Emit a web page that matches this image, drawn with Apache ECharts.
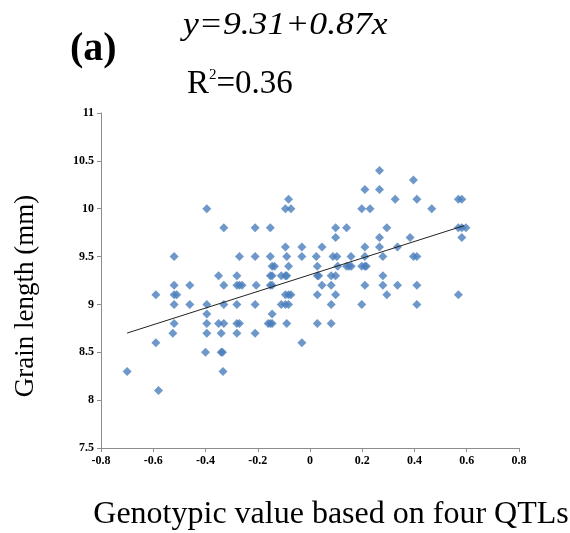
<!DOCTYPE html>
<html><head><meta charset="utf-8">
<script src="https://cdn.jsdelivr.net/npm/echarts@6/dist/echarts.min.js"></script>
<style>html,body{margin:0;padding:0;background:#fff}#c{width:570px;height:533px}</style>
</head><body><div id="c"></div>
<script>
const genotypicValue = [
 -0.70,-0.58,-0.59,-0.59,-0.52,-0.52,-0.52,-0.51,-0.52,-0.52,-0.525,
 -0.46,-0.46,-0.395,-0.395,-0.395,-0.395,-0.395,-0.40,
 -0.35,-0.35,-0.34,-0.34,-0.335,-0.333,-0.33,-0.33,-0.33,-0.33,
 -0.28,-0.28,-0.27,-0.26,-0.27,-0.28,-0.28,-0.27,-0.28,
 -0.21,-0.21,-0.206,-0.21,-0.21,
 -0.152,-0.152,-0.152,-0.145,-0.145,-0.136,-0.152,-0.145,-0.145,-0.16,-0.152,-0.145,
 -0.11,-0.11,-0.094,-0.073,-0.082,-0.094,-0.089,-0.094,-0.089,-0.082,-0.094,-0.082,-0.073,-0.094,-0.082,-0.089,
 -0.031,-0.031,-0.031,
 0.024,0.028,0.028,0.033,0.046,0.046,0.028,0.028,
 0.081,0.081,0.098,0.081,0.081,0.088,0.103,0.098,0.098,0.098,0.106,
 0.14,0.14,0.149,0.158,0.157,
 0.198,0.23,0.21,0.198,0.21,0.215,0.21,0.21,0.21,0.198,
 0.266,0.266,0.266,0.266,0.279,0.279,0.279,0.294,0.294,
 0.326,0.335,0.335,0.383,0.396,0.396,0.409,0.409,0.409,0.409,0.466,
 0.568,0.581,0.568,0.581,0.597,0.581,0.568
];
const grainLength = [
 8.3,8.1,8.6,9.1,9.5,9.2,9.1,9.1,9.0,8.8,8.7,
 9.2,9.0,10.0,9.0,8.9,8.8,8.7,8.5,
 9.3,8.8,8.7,8.5,8.5,8.3,9.8,9.2,9.0,8.8,
 9.3,9.2,9.2,9.2,9.5,9.0,8.8,8.8,8.7,
 9.8,9.5,9.2,9.0,8.7,
 9.8,9.5,9.3,9.3,9.4,9.4,9.2,9.2,8.9,8.8,8.8,8.8,
 9.3,9.0,10.0,10.0,10.1,9.6,9.5,9.3,9.3,9.4,9.1,9.1,9.1,9.0,9.0,8.8,
 9.6,9.5,8.6,
 9.5,9.4,9.3,9.3,9.2,9.6,9.1,8.8,
 9.2,9.3,9.3,9.0,8.8,9.5,9.5,9.8,9.7,9.1,9.4,
 9.8,9.4,9.4,9.4,9.5,
 10.0,10.0,10.2,9.4,9.4,9.4,9.6,9.5,9.2,9.0,
 10.4,10.2,9.7,9.6,9.5,9.3,9.2,9.8,9.1,
 10.1,9.6,9.2,9.7,10.3,9.5,9.5,10.1,9.2,9.0,10.0,
 10.1,10.1,9.8,9.8,9.8,9.7,9.1
];
const fitX = [-0.70, 0.59];
const intercept = 9.31, slope = 0.87;
const fitY = fitX.map(x => +(intercept + slope * x).toFixed(4));
const xTicks = [-0.8,-0.6,-0.4,-0.2,0,0.2,0.4,0.6,0.8];
const yTicks = [7.5,8,8.5,9,9.5,10,10.5,11];

const serif = '"Liberation Serif","DejaVu Serif",serif';
const chart = echarts.init(document.getElementById('c'));
chart.setOption({
  animation:false,
  backgroundColor:'#fff',
  grid:{left:101,right:51,top:113,bottom:85},
  xAxis:{type:'value',min:-0.8,max:0.8,interval:0.2,
    axisLine:{onZero:false,lineStyle:{color:'#8c8c8c',width:1}},
    axisTick:{show:true,inside:false,length:4,lineStyle:{color:'#8c8c8c'}},
    splitLine:{show:false},
    axisLabel:{color:'#000',fontFamily:serif,fontWeight:'bold',fontSize:12,margin:7,
      formatter:v=>String(+v.toFixed(1))}},
  yAxis:{type:'value',min:7.5,max:11,interval:0.5,
    axisLine:{show:true,onZero:false,lineStyle:{color:'#8c8c8c',width:1}},
    axisTick:{show:true,inside:false,length:4,lineStyle:{color:'#8c8c8c'}},
    splitLine:{show:false},
    axisLabel:{color:'#000',fontFamily:serif,fontWeight:'bold',fontSize:12,margin:7,
      formatter:v=>String(+v.toFixed(1))}},
  series:[
    {type:'scatter',symbol:'diamond',symbolSize:9,
     itemStyle:{color:'#4a7ebb'},
     data:genotypicValue.map((x,i)=>[x,grainLength[i]])},
    {type:'line',symbol:'none',lineStyle:{color:'#222',width:1},
     data:fitX.map((x,i)=>[x,fitY[i]])}
  ],
  graphic:[
    {type:'text',x:70,y:30,style:{text:'(a)',font:'bold 40px '+serif,fill:'#000',align:'left',verticalAlign:'top'}},
    {type:'text',x:183,y:10,scaleX:1.15,style:{text:'y=9.31+0.87x',font:'italic 31px '+serif,fill:'#000',align:'left',verticalAlign:'top'}},
    {type:'text',x:187,y:68,style:{rich:{
        a:{fontFamily:serif,fontSize:33,color:'#000'},
        s:{fontFamily:serif,fontSize:15,color:'#000',verticalAlign:'top',padding:[0,0,14,0]}
      },text:'{a|R}{s|2}{a|=0.36}',align:'left',verticalAlign:'top'}},
    {type:'text',x:26,y:296,rotation:Math.PI/2,style:{text:'Grain length (mm)',font:'27px '+serif,fill:'#000',align:'center',verticalAlign:'middle'}},
    {type:'text',x:331,y:515,style:{text:'Genotypic value based on four QTLs',font:'32px '+serif,fill:'#000',align:'center',verticalAlign:'middle'}}
  ]
});
</script></body></html>
